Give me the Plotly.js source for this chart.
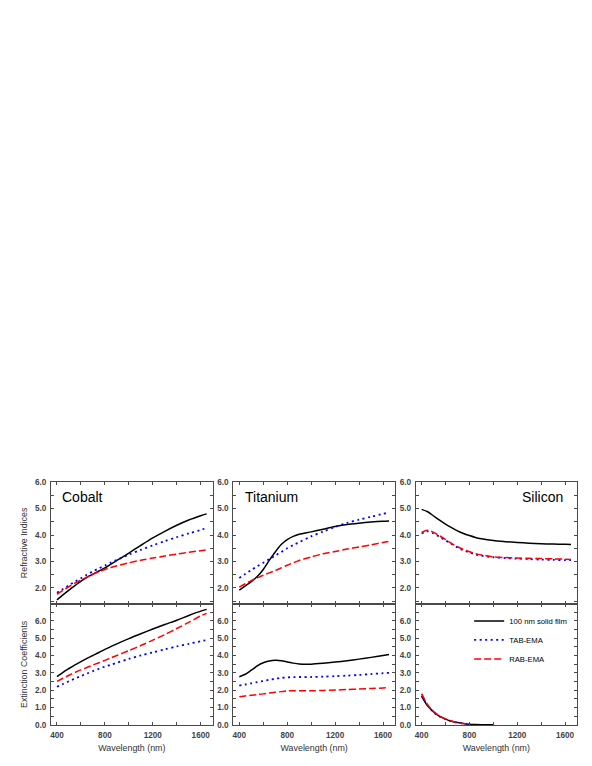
<!DOCTYPE html>
<html>
<head>
<meta charset="utf-8">
<script src="https://cdn.plot.ly/plotly-3.0.1.min.js"></script>
<style>
  html, body { margin: 0; padding: 0; background: #fff; }
  #chart { width: 592px; height: 766px; }
</style>
</head>
<body>
<div id="chart"></div>
<script>
/* n and k of Co, Ti, Si: solid film vs TAB-EMA / RAB-EMA */

const wavelength = [400, 450, 500, 550, 600, 650, 700, 750, 800, 850, 900, 1000, 1100, 1200, 1300, 1400, 1500, 1600, 1650];

const seriesNames = ['100 nm solid film', 'TAB-EMA', 'RAB-EMA'];
const panelNames = ['Cobalt', 'Titanium', 'Silicon'];

// refractive index n
const coN_film = [1.55, 1.74, 1.92, 2.09, 2.26, 2.40, 2.52, 2.64, 2.76, 2.90, 3.04, 3.32, 3.61, 3.89, 4.14, 4.37, 4.57, 4.73, 4.80];
const coN_tab  = [1.82, 1.96, 2.10, 2.24, 2.37, 2.50, 2.63, 2.74, 2.85, 2.96, 3.06, 3.26, 3.44, 3.61, 3.77, 3.92, 4.06, 4.19, 4.27];
const coN_rab  = [1.76, 1.91, 2.05, 2.18, 2.30, 2.41, 2.52, 2.61, 2.70, 2.77, 2.84, 2.95, 3.05, 3.13, 3.21, 3.28, 3.35, 3.41, 3.44];

const tiN_film = [1.92, 2.08, 2.24, 2.43, 2.70, 3.04, 3.36, 3.64, 3.83, 3.95, 4.03, 4.12, 4.22, 4.32, 4.40, 4.45, 4.49, 4.52, 4.53];
const tiN_tab  = [2.38, 2.53, 2.68, 2.82, 2.95, 3.09, 3.22, 3.36, 3.50, 3.62, 3.73, 3.95, 4.13, 4.31, 4.46, 4.58, 4.69, 4.80, 4.85];
const tiN_rab  = [2.03, 2.16, 2.28, 2.38, 2.48, 2.57, 2.66, 2.76, 2.86, 2.95, 3.04, 3.17, 3.29, 3.38, 3.47, 3.55, 3.63, 3.72, 3.76];

const siN_film = [4.97, 4.88, 4.72, 4.56, 4.41, 4.28, 4.16, 4.06, 3.98, 3.91, 3.86, 3.79, 3.75, 3.72, 3.69, 3.67, 3.66, 3.65, 3.64];
const siN_tab  = [4.06, 4.14, 4.06, 3.93, 3.80, 3.66, 3.53, 3.42, 3.34, 3.27, 3.22, 3.16, 3.13, 3.11, 3.09, 3.07, 3.06, 3.05, 3.05];
const siN_rab  = [4.10, 4.18, 4.10, 3.97, 3.83, 3.68, 3.56, 3.45, 3.37, 3.30, 3.25, 3.18, 3.15, 3.13, 3.12, 3.11, 3.10, 3.09, 3.08];

// extinction coefficient k
const coK_film = [2.78, 3.03, 3.25, 3.46, 3.65, 3.83, 4.00, 4.17, 4.35, 4.51, 4.67, 4.97, 5.25, 5.52, 5.78, 6.03, 6.30, 6.55, 6.65];
const coK_tab  = [2.20, 2.36, 2.52, 2.67, 2.82, 2.96, 3.10, 3.23, 3.36, 3.47, 3.58, 3.80, 4.00, 4.18, 4.35, 4.52, 4.67, 4.82, 4.88];
const coK_rab  = [2.51, 2.69, 2.86, 3.02, 3.17, 3.31, 3.45, 3.58, 3.72, 3.86, 4.00, 4.28, 4.57, 4.88, 5.20, 5.55, 5.90, 6.28, 6.42];

const tiK_film = [2.78, 2.92, 3.15, 3.40, 3.58, 3.68, 3.72, 3.70, 3.63, 3.56, 3.51, 3.50, 3.55, 3.62, 3.70, 3.79, 3.89, 4.00, 4.05];
const tiK_tab  = [2.27, 2.33, 2.40, 2.47, 2.53, 2.60, 2.66, 2.71, 2.74, 2.75, 2.76, 2.76, 2.78, 2.81, 2.84, 2.88, 2.93, 2.98, 3.00];
const tiK_rab  = [1.63, 1.67, 1.71, 1.75, 1.79, 1.84, 1.88, 1.92, 1.96, 1.97, 1.97, 1.97, 1.99, 2.01, 2.04, 2.07, 2.10, 2.13, 2.15];

const siK_film = [1.65, 1.10, 0.75, 0.50, 0.34, 0.22, 0.14, 0.09, 0.05, 0.03, 0.02, 0.01, null, null, null, null, null, null, null];
const siK_tab  = [1.70, 1.12, 0.74, 0.49, 0.33, 0.21, 0.13, 0.08, 0.04, null, null, null, null, null, null, null, null, null, null];
const siK_rab  = [1.80, 1.17, 0.78, 0.52, 0.35, 0.23, 0.14, 0.08, 0.04, null, null, null, null, null, null, null, null, null, null];

const lineStyles = [
  {color: '#000000', width: 1.5, dash: 'solid'},
  {color: '#0000ff', width: 1.8, dash: '2px,3.5px'},
  {color: '#ff0000', width: 1.5, dash: '7px,3px'},
];

// subplot index -> [film, tab, rab]
const panels = [
  [coN_film, coN_tab, coN_rab],
  [tiN_film, tiN_tab, tiN_rab],
  [siN_film, siN_tab, siN_rab],
  [coK_film, coK_tab, coK_rab],
  [tiK_film, tiK_tab, tiK_rab],
  [siK_film, siK_tab, siK_rab],
];

let data = [];
panels.forEach(function(set, p) {
  const suffix = p === 0 ? '' : String(p + 1);
  set.forEach(function(yVals, s) {
    data.push({
      x: wavelength,
      y: yVals,
      xaxis: 'x' + suffix,
      yaxis: 'y' + suffix,
      name: seriesNames[s],
      legendgroup: seriesNames[s],
      showlegend: p === 5, // legend lives in the Silicon k panel
      type: 'scatter',
      mode: 'lines',
      connectgaps: false,
      line: Object.assign({shape: 'spline', smoothing: 0.8}, lineStyles[s]),
      hoverinfo: 'skip',
    });
  });
});

const axisColor = '#4a4a4a';
const tickFont = {family: 'Liberation Sans, Arial, sans-serif', size: 8.2, color: '#444', weight: 'bold'};
const titleFont = {family: 'Liberation Sans, Arial, sans-serif', size: 8.9, color: '#333'};

const xDomains = [[0, 0.3074], [0.3466, 0.654], [0.6933, 1]];
const yDomains = [[0.4986, 1], [0, 0.4986]];

function xAxis(col, bottom) {
  return {
    domain: xDomains[col],
    range: [350, 1700],
    anchor: 'y' + (bottom ? String(col + 4) : (col === 0 ? '' : String(col + 1))),
    showline: true,
    linecolor: axisColor,
    linewidth: 1,
    mirror: 'ticks',
    ticks: 'inside',
    ticklen: 3,
    tickcolor: axisColor,
    tick0: 400,
    dtick: 400,
    minor: {ticks: 'inside', dtick: 200, tick0: 400, ticklen: 3, tickcolor: axisColor},
    showgrid: false,
    zeroline: false,
    showticklabels: bottom,
    tickfont: tickFont,
    ticklabelstandoff: 2,
    fixedrange: true,
    title: bottom ? {text: 'Wavelength (nm)', font: titleFont, standoff: 5} : {text: ''},
    automargin: false,
  };
}

function yAxis(col, bottom) {
  return {
    domain: yDomains[bottom ? 1 : 0],
    range: bottom ? [0, 6.97] : [1.4, 6.005],
    anchor: 'x' + (bottom ? String(col + 4) : (col === 0 ? '' : String(col + 1))),
    showline: true,
    linecolor: axisColor,
    linewidth: 1,
    mirror: 'ticks',
    ticks: 'inside',
    ticklen: 3,
    tickcolor: axisColor,
    tick0: 0,
    dtick: 1,
    tickformat: '.1f',
    minor: {ticks: 'inside', dtick: 0.5, tick0: 0, ticklen: 3, tickcolor: axisColor},
    showgrid: false,
    zeroline: false,
    tickfont: tickFont,
    ticklabelstandoff: 2,
    fixedrange: true,
    title: col === 0
      ? {text: bottom ? 'Extinction Coefficients' : 'Refractive Indices', font: titleFont, standoff: 5}
      : {text: ''},
    automargin: false,
  };
}

let layout = {
  width: 592,
  height: 766,
  margin: {l: 51, r: 15, t: 482, b: 41, pad: 0},
  paper_bgcolor: '#ffffff',
  plot_bgcolor: '#ffffff',
  font: {family: 'Liberation Sans, Arial, sans-serif', color: '#000'},
  showlegend: true,
  legend: {
    x: 0.795,
    y: 0.488,
    xanchor: 'left',
    yanchor: 'top',
    bgcolor: 'rgba(0,0,0,0)',
    borderwidth: 0,
    font: {family: 'Liberation Sans, Arial, sans-serif', size: 7.7, color: '#000'},
    tracegroupgap: 0,
  },
  annotations: [],
};

for (let col = 0; col < 3; col++) {
  const top = col === 0 ? '' : String(col + 1);
  const bot = String(col + 4);
  layout['xaxis' + top] = xAxis(col, false);
  layout['xaxis' + bot] = xAxis(col, true);
  layout['yaxis' + top] = yAxis(col, false);
  layout['yaxis' + bot] = yAxis(col, true);

  const isRight = col === 2;
  layout.annotations.push({
    text: panelNames[col],
    xref: 'x' + top + ' domain',
    yref: 'y' + top + ' domain',
    x: isRight ? 0.928 : 0.058,
    y: 0.877,
    xanchor: isRight ? 'right' : 'left',
    yanchor: 'middle',
    showarrow: false,
    font: {family: 'Liberation Sans, Arial, sans-serif', size: 14, color: '#000'},
  });
}

Plotly.newPlot('chart', data, layout, {staticPlot: true, displayModeBar: false});
</script>
</body>
</html>
